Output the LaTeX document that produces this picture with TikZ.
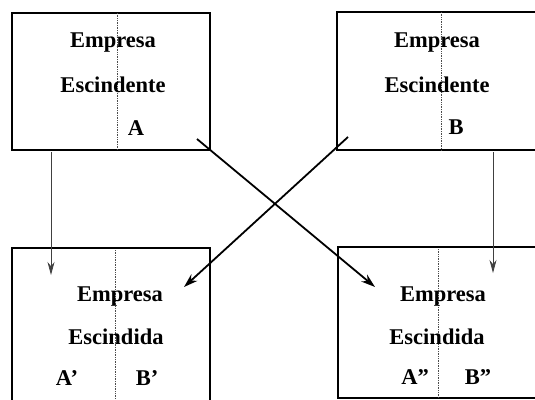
\documentclass[tikz,border=0pt]{standalone}
\usepackage{fontspec}
\setmainfont{Liberation Serif}
\usetikzlibrary{arrows.meta}

\begin{document}
\begin{tikzpicture}[
    x=1pt, y=-1pt,
    box/.style={rectangle, draw, line width=1.6pt, inner sep=0pt, outer sep=0pt, anchor=north west},
    divider/.style={densely dotted, line width=0.7pt, draw=black!70},
    label/.style={font=\fontsize{22.5}{26}\selectfont\bfseries, inner sep=0pt},
    thinarrow/.style={-{Stealth[length=13pt, width=7pt]}, line width=0.8pt, draw=black!75},
    crossarrow/.style={-{Stealth[length=14pt, width=9pt]}, line width=1.8pt}
]
    \useasboundingbox (0,0) rectangle (535,399);
    \clip (0,0) rectangle (535,399);

    % empresas escindentes
    \node (escA) at (12,13) [box, minimum width=198pt, minimum height=137pt] {};
    \node (escB) at (337,12) [box, minimum width=210pt, minimum height=138pt] {};

    % empresas escindidas
    \node (newL) at (12,248) [box, minimum width=198pt, minimum height=154pt] {};
    \node (newR) at (338,247) [box, minimum width=210pt, minimum height=151pt] {};

    \draw[divider] (117,13) -- (117,150);
    \draw[divider] (441,12) -- (441,150);
    \draw[divider] (115,250) -- (115,399);
    \draw[divider] (438,249) -- (438,398);

    \node (tA1) at (113,43) [label] {Empresa};
    \node (tA2) at (113,85) [label] {Escindente};
    \node (tA3) at (136,128) [label] {A};

    \node (tB1) at (437,43) [label] {Empresa};
    \node (tB2) at (437,85) [label] {Escindente};
    \node (tB3) at (456,127) [label] {B};

    \node (tL1) at (120,297) [label] {Empresa};
    \node (tL2) at (116,337) [label] {Escindida};
    \node (tL3) at (67,378) [label] {A'};
    \node (tL4) at (147,378) [label] {B'};

    \node (tR1) at (443,297) [label] {Empresa};
    \node (tR2) at (437,337) [label] {Escindida};
    \node (tR3) at (415,377) [label] {A''};
    \node (tR4) at (478,377) [label] {B''};

    \coordinate (tipL) at (51,275);
    \coordinate (tipR) at (493,273);
    \coordinate (tipCL) at (184,287);
    \coordinate (tipCR) at (375,287);

    \draw[thinarrow] ([yshift=-2pt]escA.south -| tipL) -- (tipL);
    \draw[thinarrow] ([yshift=-2pt]escB.south -| tipR) -- (tipR);

    \draw[crossarrow] ([shift={(-13,-11)}]escA.south east) -- (tipCR);
    \draw[crossarrow] ([shift={(11,-13)}]escB.south west) -- (tipCL);

\end{tikzpicture}
\end{document}
